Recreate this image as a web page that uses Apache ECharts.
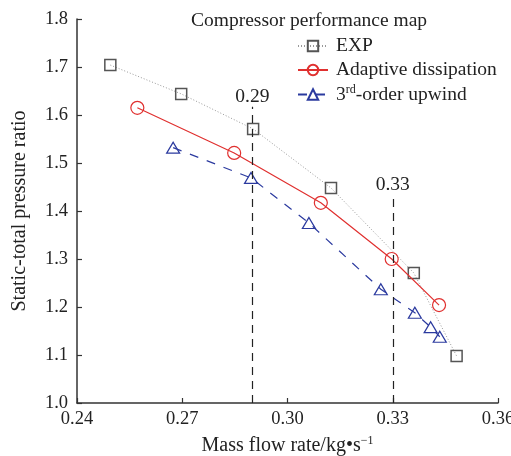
<!DOCTYPE html>
<html><head><meta charset="utf-8">
<script src="https://cdn.jsdelivr.net/npm/echarts@6/dist/echarts.min.js"></script>
<style>html,body{margin:0;padding:0;background:#fff}#c{width:511px;height:456px}</style>
</head><body><div id="c"></div>
<script>
const expX = [0.2495, 0.2697, 0.2902, 0.3124, 0.3360, 0.3482];
const expY = [1.704, 1.644, 1.571, 1.448, 1.271, 1.098];
const adX = [0.2572, 0.2848, 0.3095, 0.3297, 0.3432];
const adY = [1.615, 1.521, 1.417, 1.300, 1.204];
const upX = [0.2674, 0.2896, 0.3061, 0.3266, 0.3363, 0.3408, 0.3434];
const upY = [1.532, 1.469, 1.375, 1.237, 1.188, 1.158, 1.138];
const refX = [0.29, 0.33];
const refTop = [1.617, 1.433];
const xTicks = [0.24, 0.27, 0.30, 0.33, 0.36];
const yTicks = [1.0, 1.1, 1.2, 1.3, 1.4, 1.5, 1.6, 1.7, 1.8];

const FONT = 'Liberation Serif';
const TXT = '#222';
const zip = (a, b) => a.map((v, i) => [v, b[i]]);

const chart = echarts.init(document.getElementById('c'), null, {renderer: 'canvas'});
chart.setOption({
  animation: false,
  backgroundColor: '#fff',
  textStyle: {fontFamily: FONT, color: TXT},
  title: {
    text: 'Compressor performance map', left: 186, top: 6,
    textStyle: {fontFamily: FONT, fontSize: 19.5, fontWeight: 'normal', color: TXT}
  },
  legend: {
    left: 297, top: 36, padding: 0, orient: 'vertical', itemWidth: 30, itemHeight: 13, itemGap: 4,
    textStyle: {fontFamily: FONT, fontSize: 19.5, color: TXT, padding: [0, 0, 0, 3],
      rich: {n: {fontFamily: FONT, fontSize: 19.5, color: TXT}, sup: {fontFamily: FONT, fontSize: 12, color: TXT, verticalAlign: 'top', padding: [0, 0, 9, 0]}}},
    formatter: n => n === '3rd-order upwind' ? '{n|3}{sup|rd}{n|-order upwind}' : n,
    data: ['EXP', 'Adaptive dissipation', '3rd-order upwind']
  },
  grid: {left: 77, right: 13, top: 19, bottom: 53, containLabel: false, outerBoundsMode: 'none'},
  xAxis: {
    type: 'value', min: xTicks[0], max: xTicks[xTicks.length - 1], interval: 0.03,
    name: 'Mass flow rate/kg\u2022s{sup|\u22121}', nameLocation: 'middle', nameGap: 32,
    nameTextStyle: {fontFamily: FONT, fontSize: 20, color: TXT,
      rich: {sup: {fontFamily: FONT, fontSize: 12, color: TXT, padding: [0, 0, 9, 0]}}},
    axisLine: {lineStyle: {color: '#333', width: 1.5}},
    axisTick: {inside: true, length: 5, lineStyle: {color: '#333', width: 1.2}},
    axisLabel: {fontFamily: FONT, fontSize: 18.5, color: TXT, margin: 7, formatter: v => v.toFixed(2)},
    splitLine: {show: false}
  },
  yAxis: {
    type: 'value', min: yTicks[0], max: yTicks[yTicks.length - 1], interval: 0.1,
    name: 'Static-total pressure ratio', nameLocation: 'middle', nameGap: 47,
    nameTextStyle: {fontFamily: FONT, fontSize: 20, color: TXT},
    axisLine: {lineStyle: {color: '#333', width: 1.5}},
    axisTick: {inside: true, length: 5, lineStyle: {color: '#333', width: 1.2}},
    axisLabel: {fontFamily: FONT, fontSize: 18.5, color: TXT, margin: 9, formatter: v => v.toFixed(1)},
    splitLine: {show: false}
  },
  series: [
    {
      name: 'EXP', type: 'line', data: zip(expX, expY),
      symbol: 'rect', symbolSize: 11, showAllSymbol: true,
      itemStyle: {color: 'rgba(0,0,0,0)', borderColor: '#555', borderWidth: 1.5},
      lineStyle: {color: '#999', width: 1, type: [1, 2]},
      z: 3
    },
    {
      name: 'Adaptive dissipation', type: 'line', data: zip(adX, adY),
      symbol: 'circle', symbolSize: 13,
      itemStyle: {color: 'rgba(0,0,0,0)', borderColor: '#e0302f', borderWidth: 1.2},
      lineStyle: {color: '#e0302f', width: 1.2, type: 'solid'},
      z: 4
    },
    {
      name: '3rd-order upwind', type: 'line', data: zip(upX, upY),
      symbol: 'triangle', symbolSize: [13, 11],
      itemStyle: {color: 'rgba(0,0,0,0)', borderColor: '#2b3a9f', borderWidth: 1.2},
      lineStyle: {color: '#2b3a9f', width: 1.2, type: [9, 9]},
      z: 4
    },
    {
      type: 'line', data: [], silent: true,
      markLine: {
        silent: true, symbol: 'none', animation: false,
        lineStyle: {color: '#222', width: 1.2, type: [8, 6]},
        label: {show: true, position: 'end', distance: 0, fontFamily: FONT, fontSize: 19.5, color: TXT},
        data: refX.map((x, i) => [
          {coord: [x, yTicks[0]]},
          {coord: [x, refTop[i]], label: {show: true, formatter: x.toFixed(2)}}
        ])
      }
    }
  ]
});
</script></body></html>
